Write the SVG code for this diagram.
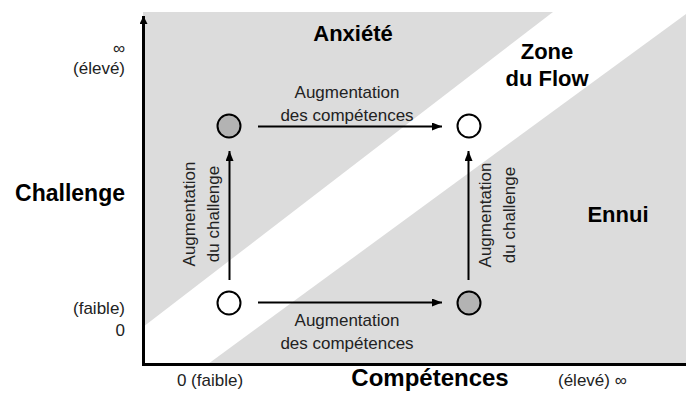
<svg xmlns="http://www.w3.org/2000/svg" width="686" height="401" viewBox="0 0 686 401">
<style>
.zone{fill:#dcdcdc;stroke:none}
.t{font-family:"Liberation Sans",Arial,Helvetica,sans-serif;font-size:17px;fill:#222}
.b{font-family:"Liberation Sans",Arial,Helvetica,sans-serif;font-size:22px;font-weight:bold;fill:#000}
.axis{stroke:#000;stroke-width:3;fill:none}
.con{stroke:#000;stroke-width:2;fill:none;marker-end:url(#ah)}
.st{stroke:#000;stroke-width:2}
.gray{fill:#b3b3b3}
.white{fill:#fff}
</style>
<defs>
<marker id="ah" viewBox="0 0 10 8" refX="10" refY="4" markerWidth="10" markerHeight="8" markerUnits="userSpaceOnUse" orient="auto">
<path d="M0,0 L10,4 L0,8 z" fill="#000"/>
</marker>
<marker id="axh" viewBox="0 0 8 8" refX="8" refY="4" markerWidth="8" markerHeight="8" markerUnits="userSpaceOnUse" orient="auto">
<path d="M0,0 L8,4 L0,8 z" fill="#000"/>
</marker>
</defs>
<g id="zones">
<rect class="zone" x="143" y="12" width="543" height="352"/>
<polygon fill="#fff" points="553,12 686,12 686,14 208,364 143,364 143,327"/>
</g>
<g id="axes">
<line class="axis" x1="143.5" y1="365.5" x2="143.5" y2="16" marker-end="url(#axh)"/>
<line class="axis" x1="142" y1="364.5" x2="686" y2="364.5"/>
</g>
<g id="labels">
<text class="t" x="125" y="54" text-anchor="end">∞</text>
<text class="t" x="125" y="74" text-anchor="end">(élevé)</text>
<text class="b" x="125" y="201" text-anchor="end" style="font-size:23px">Challenge</text>
<text class="t" x="125" y="314" text-anchor="end">(faible)</text>
<text class="t" x="125" y="336" text-anchor="end">0</text>
<text class="t" x="210" y="386" text-anchor="middle">0 (faible)</text>
<text class="b" x="430" y="386" text-anchor="middle" style="font-size:24px">Compétences</text>
<text class="t" x="558" y="386">(élevé) ∞</text>
<text class="b" x="353" y="41" text-anchor="middle">Anxiété</text>
<text class="b" x="547" y="59" text-anchor="middle">Zone</text>
<text class="b" x="547" y="86" text-anchor="middle">du Flow</text>
<text class="b" x="618" y="222" text-anchor="middle">Ennui</text>
</g>
<g id="connectors">
<line class="con" x1="258" y1="126.5" x2="442" y2="126.5"/>
<line class="con" x1="258" y1="302.5" x2="442" y2="302.5"/>
<line class="con" x1="229.5" y1="280" x2="229.5" y2="151"/>
<line class="con" x1="468.5" y1="280" x2="468.5" y2="151"/>
<text class="t" x="347" y="98" text-anchor="middle">Augmentation</text>
<text class="t" x="347" y="121" text-anchor="middle">des compétences</text>
<text class="t" x="347" y="326" text-anchor="middle">Augmentation</text>
<text class="t" x="347" y="349" text-anchor="middle">des compétences</text>
<text class="t" transform="translate(195,214) rotate(-90)" text-anchor="middle">Augmentation</text>
<text class="t" transform="translate(219,214) rotate(-90)" text-anchor="middle">du challenge</text>
<text class="t" transform="translate(491,215) rotate(-90)" text-anchor="middle">Augmentation</text>
<text class="t" transform="translate(515,215) rotate(-90)" text-anchor="middle">du challenge</text>
</g>
<g id="node-tl"><circle class="st gray" cx="229" cy="126" r="11.5"/></g>
<g id="node-tr"><circle class="st white" cx="469" cy="126" r="11.5"/></g>
<g id="node-bl"><circle class="st white" cx="229" cy="303" r="11.5"/></g>
<g id="node-br"><circle class="st gray" cx="469" cy="303" r="11.5"/></g>
</svg>
